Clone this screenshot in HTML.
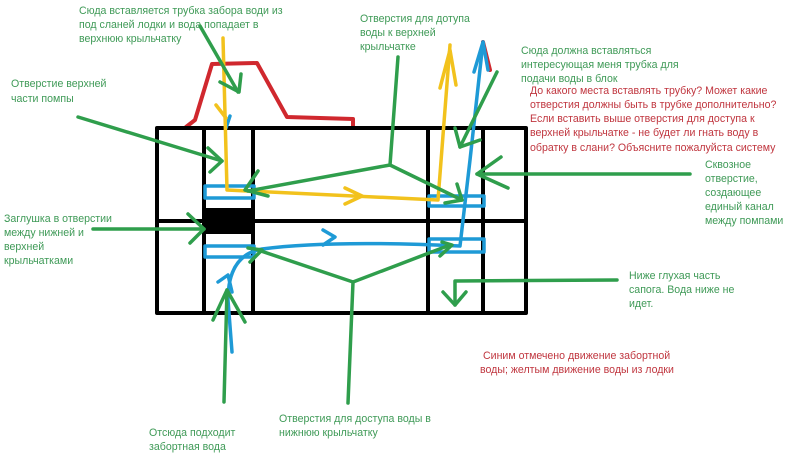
<!DOCTYPE html>
<html><head><meta charset="utf-8"><style>
html,body{margin:0;padding:0;background:#fff;}
svg{display:block}
text{font-family:"Liberation Sans","DejaVu Sans",sans-serif;font-size:10.6px;}
.g{fill:#3f9a57}.r{fill:#c0363f}
</style></head><body>
<svg width="800" height="466" viewBox="0 0 800 466" xmlns="http://www.w3.org/2000/svg">
<g fill="none" stroke-linecap="round" stroke-linejoin="round">
<polyline points="186,127 195,120 212,64 257,63 287,117 353,119 353,128" stroke="#d0282e" stroke-width="4"/>
<line x1="483" y1="42" x2="490" y2="70" stroke="#d0282e" stroke-width="4"/>
<g stroke="#000" stroke-width="4">
<rect x="157" y="128" width="369" height="185"/>
<line x1="204" y1="128" x2="204" y2="313"/>
<line x1="253" y1="128" x2="253" y2="313"/>
<line x1="428" y1="128" x2="428" y2="313"/>
<line x1="483" y1="128" x2="483" y2="313"/>
<line x1="157" y1="221" x2="526" y2="221"/>
</g>
<rect x="204" y="208" width="50" height="26" fill="#000"/>
<g stroke="#1e9ad6" stroke-width="3.5">
<rect x="205" y="186" width="49" height="12"/>
<rect x="205" y="246" width="49" height="11"/>
<rect x="429" y="196" width="55" height="10"/>
<rect x="429" y="239" width="55" height="13"/>
</g>
<g stroke="#1e9ad6" stroke-width="3.5">
<path d="M232,352 L228,300 Q228,255 262,249 Q330,240 460,246 L470,160 L483,42"/>
<polyline points="218,282 228,275 232,292"/>
<polyline points="323,230 335,237 323,245"/>
<polyline points="474,72 483,42 488,70"/>
<line x1="230" y1="116" x2="226" y2="128"/>
</g>
<g stroke="#f2c21d" stroke-width="3.5">
<polyline points="223,38 227,190 438,200 450,45"/>
<polyline points="216,105 226,118"/>
<polyline points="345,188 362,196 345,204"/>
<polyline points="440,88 450,50 456,85"/>
</g>
<g stroke="#2f9e4c" stroke-width="3.5">
<line x1="200" y1="26" x2="238" y2="92"/><polyline points="220,82 239,92 241,74"/>
<line x1="78" y1="117" x2="222" y2="161"/><polyline points="208,148 222,161 210,172"/>
<line x1="93" y1="229" x2="204" y2="229"/><polyline points="188,214 204,229 190,243"/>
<polyline points="398,57 390,165 248,191"/><polyline points="258,171 245,190 268,196"/>
<polyline points="390,165 462,200"/><polyline points="457,184 462,200 445,203"/>
<line x1="497" y1="72" x2="460" y2="147"/><polyline points="455,128 460,147 480,140"/>
<line x1="690" y1="174" x2="477" y2="174"/><polyline points="501,157 477,174 508,188"/>
<polyline points="617,280 455,281 455,305"/><polyline points="443,292 455,305 466,292"/>
<polyline points="348,403 353,282 258,250"/><polyline points="353,282 450,245"/>
<polyline points="248,248 262,250 250,262"/><polyline points="442,242 452,245 440,256"/>
<line x1="224" y1="402" x2="227" y2="290"/><polyline points="213,320 227,290 245,322"/>
</g>
</g>
<text class="g" x="79" y="14">Сюда вставляется трубка забора води из</text>
<text class="g" x="79" y="28">под сланей лодки и вода попадает в</text>
<text class="g" x="79" y="42">верхнюю крыльчатку</text>
<text class="g" x="11" y="87">Отверстие верхней</text>
<text class="g" x="11" y="102">части помпы</text>
<text class="g" x="4" y="222">Заглушка в отверстии</text>
<text class="g" x="4" y="236">между нижней и</text>
<text class="g" x="4" y="250">верхней</text>
<text class="g" x="4" y="264">крыльчатками</text>
<text class="g" x="360" y="22">Отверстия для дотупа</text>
<text class="g" x="360" y="36">воды к верхней</text>
<text class="g" x="360" y="50">крыльчатке</text>
<text class="g" x="521" y="54">Сюда должна вставляться</text>
<text class="g" x="521" y="68">интересующая меня трубка для</text>
<text class="g" x="521" y="82">подачи воды в блок</text>
<text class="r" x="530" y="94">До какого места вставлять трубку? Может какие</text>
<text class="r" x="530" y="108">отверстия должны быть в трубке дополнительно?</text>
<text class="r" x="530" y="122">Если вставить выше отверстия для доступа к</text>
<text class="r" x="530" y="136">верхней крыльчатке - не будет ли гнать воду в</text>
<text class="r" x="530" y="151">обратку в слани? Объясните пожалуйста систему</text>
<text class="g" x="705" y="168">Сквозное</text>
<text class="g" x="705" y="182">отверстие,</text>
<text class="g" x="705" y="196">создающее</text>
<text class="g" x="705" y="210">единый канал</text>
<text class="g" x="705" y="224">между помпами</text>
<text class="g" x="629" y="279">Ниже глухая часть</text>
<text class="g" x="629" y="293">сапога. Вода ниже не</text>
<text class="g" x="629" y="307">идет.</text>
<text class="r" x="483" y="359">Синим отмечено движение забортной</text>
<text class="r" x="480" y="373">воды; желтым движение воды из лодки</text>
<text class="g" x="279" y="422">Отверстия для доступа воды в</text>
<text class="g" x="279" y="436">нижнюю крыльчатку</text>
<text class="g" x="149" y="436">Отсюда подходит</text>
<text class="g" x="149" y="450">забортная вода</text>
</svg>
</body></html>
